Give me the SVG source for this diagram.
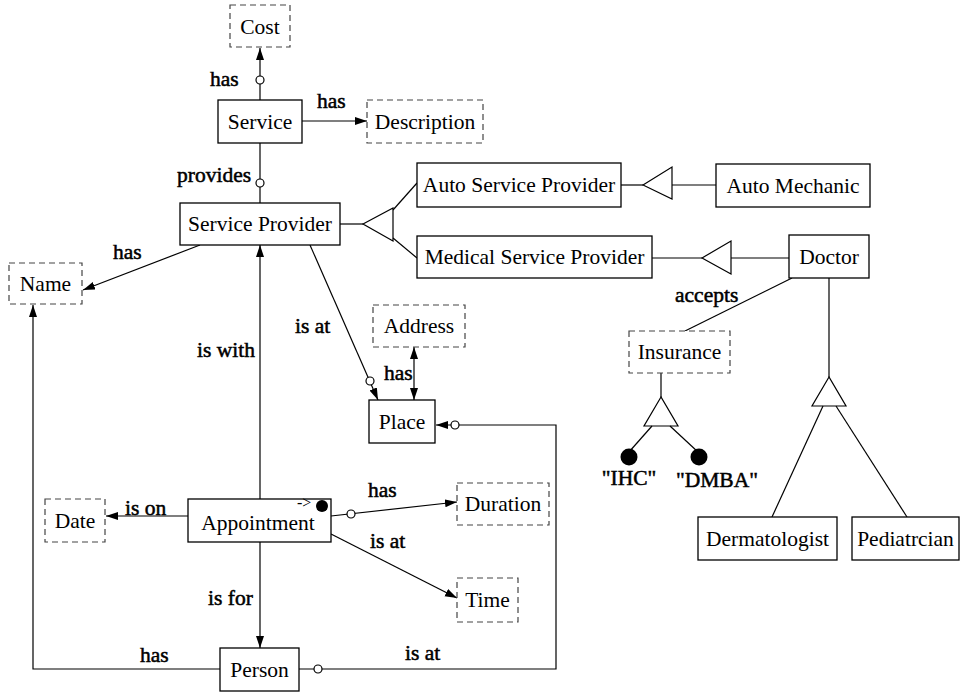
<svg xmlns="http://www.w3.org/2000/svg" width="960" height="692" viewBox="0 0 960 692">
<defs>
<marker id="arr" markerUnits="userSpaceOnUse" markerWidth="13" markerHeight="9" refX="12" refY="4" orient="auto-start-reverse">
<path d="M0,0 L12,4 L0,8 z" fill="#000"/>
</marker>
<style>
.n{fill:#fff;stroke:#000;stroke-width:1.3}
.d{fill:#fff;stroke:#444;stroke-width:1.2;stroke-dasharray:6 4}
.t{font-family:'Liberation Serif','Times New Roman',serif;font-size:21.5px;text-anchor:middle;fill:#000}
.l{font-family:'Liberation Serif','Times New Roman',serif;font-size:21.5px;fill:#000;stroke:#000;stroke-width:0.5}
.s{font-family:'Liberation Serif','Times New Roman',serif;font-size:16px;fill:#000}
.c{fill:none;stroke:#000;stroke-width:1.2}
.a{marker-end:url(#arr)}
.o{fill:#fff;stroke:#000;stroke-width:1.2}
.g{fill:#fff;stroke:#000;stroke-width:1.2}
</style>
</defs>
<rect width="960" height="692" fill="#fff"/>

<g id="connectors">
<line class="c a" x1="260" y1="100" x2="260" y2="48"/>
<circle class="o" cx="260" cy="80" r="4"/>
<line class="c a" x1="302" y1="121" x2="367" y2="121"/>
<line class="c" x1="260" y1="143" x2="260" y2="203"/>
<circle class="o" cx="260" cy="183" r="4"/>
<line class="c" x1="340" y1="224" x2="363" y2="224"/>
<polygon class="g" points="363,224 393,208 393,241"/>
<line class="c" x1="393" y1="210" x2="417" y2="183"/>
<line class="c" x1="393" y1="238" x2="417" y2="258"/>
<line class="c" x1="621" y1="185" x2="643" y2="185"/>
<polygon class="g" points="643,185 672,167 672,199"/>
<line class="c" x1="672" y1="185" x2="716" y2="185"/>
<line class="c" x1="652" y1="258" x2="702" y2="258"/>
<polygon class="g" points="702,258 731,241 731,274"/>
<line class="c" x1="731" y1="258" x2="789" y2="258"/>
<line class="c a" x1="200" y1="245" x2="83" y2="290"/>
<line class="c a" x1="260" y1="499" x2="260" y2="245"/>
<line class="c a" x1="310" y1="245" x2="378" y2="400"/>
<circle class="o" cx="370" cy="381" r="4"/>
<line class="c a" x1="414" y1="400" x2="414" y2="347" style="marker-start:url(#arr)"/>
<polyline class="c a" points="299,669 556,669 556,425 436,425"/>
<circle class="o" cx="318" cy="669" r="4"/>
<circle class="o" cx="455" cy="425" r="4"/>
<polyline class="c a" points="220,669 33,669 33,305"/>
<line class="c a" x1="188" y1="516" x2="106" y2="516"/>
<line class="c a" x1="331" y1="516" x2="457" y2="502"/>
<circle class="o" cx="351" cy="514" r="4"/>
<line class="c a" x1="331" y1="534" x2="457" y2="598"/>
<line class="c a" x1="260" y1="542" x2="260" y2="648"/>
<line class="c" x1="792" y1="278" x2="685" y2="331"/>
<line class="c" x1="829" y1="278" x2="829" y2="377"/>
<polygon class="g" points="829,377 812,406 846,406"/>
<line class="c" x1="823" y1="406" x2="772" y2="517"/>
<line class="c" x1="836" y1="406" x2="907" y2="517"/>
<line class="c" x1="661" y1="373" x2="661" y2="397"/>
<polygon class="g" points="661,397 644,426 678,426"/>
<line class="c" x1="652" y1="426" x2="629" y2="452"/>
<line class="c" x1="670" y1="426" x2="698" y2="452"/>
<circle cx="629" cy="457" r="8.5" fill="#000"/>
<circle cx="699" cy="457" r="8.5" fill="#000"/>
</g>

<g id="labels">
<text class="l" x="210" y="86">has</text>
<text class="l" x="317" y="108">has</text>
<text class="l" x="177" y="182">provides</text>
<text class="l" x="113" y="259">has</text>
<text class="l" x="197" y="357">is with</text>
<text class="l" x="295" y="333">is at</text>
<text class="l" x="384" y="380">has</text>
<text class="l" x="675" y="302">accepts</text>
<text class="l" x="125" y="515">is on</text>
<text class="l" x="368" y="497">has</text>
<text class="l" x="370" y="548">is at</text>
<text class="l" x="208" y="605">is for</text>
<text class="l" x="140" y="662">has</text>
<text class="l" x="405" y="660">is at</text>
<text class="l" x="629" y="485" text-anchor="middle">"IHC"</text>
<text class="l" x="717" y="487" text-anchor="middle">"DMBA"</text>
</g>

<g id="cost"><rect class="d" x="230" y="5" width="60" height="42"/><text class="t" x="260" y="34">Cost</text></g>
<g id="service"><rect class="n" x="218" y="100" width="84" height="43"/><text class="t" x="260" y="129">Service</text></g>
<g id="description"><rect class="d" x="367" y="100" width="116" height="43"/><text class="t" x="425" y="129">Description</text></g>
<g id="service-provider"><rect class="n" x="180" y="203" width="160" height="42"/><text class="t" x="260" y="231">Service Provider</text></g>
<g id="auto-service-provider"><rect class="n" x="417" y="163" width="204" height="44"/><text class="t" x="519" y="192">Auto Service Provider</text></g>
<g id="auto-mechanic"><rect class="n" x="716" y="164" width="154" height="43"/><text class="t" x="793" y="193">Auto Mechanic</text></g>
<g id="medical-service-provider"><rect class="n" x="417" y="236" width="235" height="42"/><text class="t" x="534.5" y="264">Medical Service Provider</text></g>
<g id="doctor"><rect class="n" x="789" y="235" width="80" height="43"/><text class="t" x="829" y="264">Doctor</text></g>
<g id="name"><rect class="d" x="9" y="263" width="73" height="41"/><text class="t" x="45.5" y="291">Name</text></g>
<g id="address"><rect class="d" x="373" y="305" width="92" height="42"/><text class="t" x="419" y="333">Address</text></g>
<g id="insurance"><rect class="d" x="629" y="331" width="101" height="42"/><text class="t" x="679.5" y="359">Insurance</text></g>
<g id="place"><rect class="n" x="369" y="400" width="66" height="43"/><text class="t" x="402" y="429">Place</text></g>
<g id="date"><rect class="d" x="45" y="499" width="60" height="43"/><text class="t" x="75" y="528">Date</text></g>
<g id="appointment"><rect class="n" x="188" y="499" width="143" height="43"/><text class="t" x="258" y="530">Appointment</text>
<text class="s" x="297" y="508">-&gt;</text><circle cx="322" cy="506" r="6" fill="#000"/></g>
<g id="duration"><rect class="d" x="457" y="483" width="92" height="42"/><text class="t" x="503" y="511">Duration</text></g>
<g id="time"><rect class="d" x="457" y="578" width="61" height="44"/><text class="t" x="487.5" y="607">Time</text></g>
<g id="person"><rect class="n" x="220" y="648" width="79" height="43"/><text class="t" x="259.5" y="677">Person</text></g>
<g id="dermatologist"><rect class="n" x="698" y="517" width="139" height="43"/><text class="t" x="767.5" y="546">Dermatologist</text></g>
<g id="pediatrcian"><rect class="n" x="852" y="517" width="107" height="43"/><text class="t" x="905.5" y="546">Pediatrcian</text></g>
</svg>
